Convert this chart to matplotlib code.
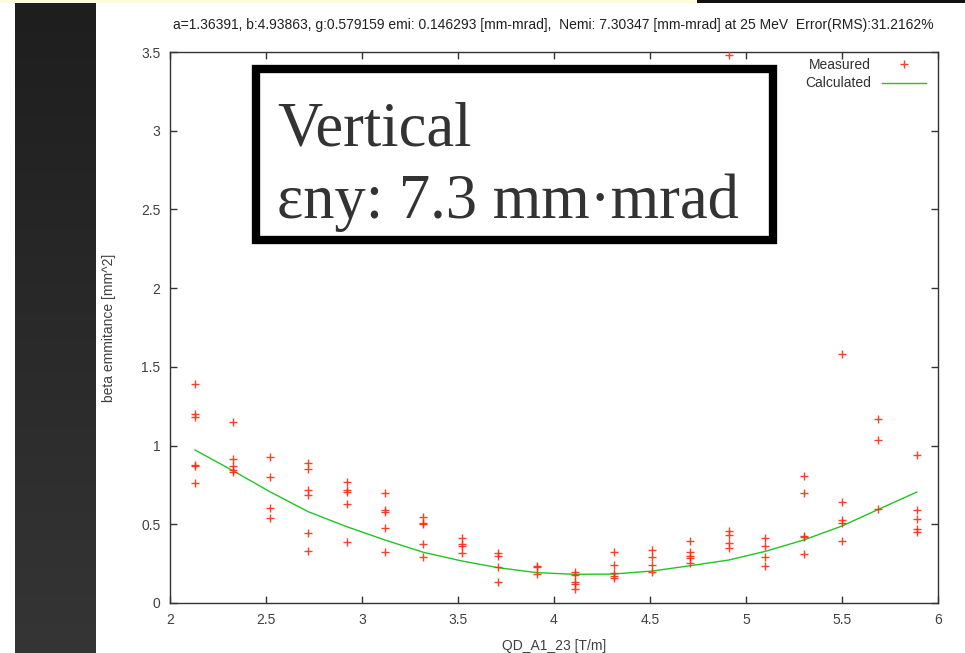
import matplotlib
matplotlib.use("Agg")
import matplotlib.pyplot as plt
import numpy as np
from matplotlib.colors import LinearSegmentedColormap

# ---------------- data ----------------
quad_strength = [2.13, 2.33, 2.52, 2.72, 2.92, 3.12, 3.32, 3.52, 3.71, 3.91,
                 4.11, 4.31, 4.51, 4.71, 4.91, 5.10, 5.30, 5.50, 5.69, 5.89]

measured = [
    [1.39, 1.20, 1.18, 0.877, 0.870, 0.76],
    [1.148, 0.915, 0.870, 0.845, 0.834],
    [0.925, 0.80, 0.605, 0.538],
    [0.888, 0.85, 0.72, 0.684, 0.445, 0.332],
    [0.767, 0.718, 0.703, 0.631, 0.388],
    [0.699, 0.591, 0.58, 0.476, 0.326],
    [0.548, 0.51, 0.50, 0.373, 0.294],
    [0.415, 0.373, 0.362, 0.316],
    [0.32, 0.30, 0.229, 0.133],
    [0.237, 0.229, 0.182],
    [0.195, 0.178, 0.131, 0.121, 0.091],
    [0.322, 0.243, 0.189, 0.172, 0.161],
    [0.335, 0.29, 0.243, 0.197],
    [0.392, 0.326, 0.299, 0.286, 0.252],
    [3.48, 0.455, 0.43, 0.379, 0.349],
    [0.411, 0.362, 0.292, 0.237],
    [0.805, 0.697, 0.426, 0.417, 0.309],
    [1.582, 0.640, 0.525, 0.51, 0.394],
    [1.171, 1.034, 0.599],
    [0.942, 0.593, 0.532, 0.468, 0.451],
]

calculated = [0.972, 0.839, 0.707, 0.58, 0.485, 0.40, 0.322, 0.267, 0.224, 0.193,
              0.182, 0.184, 0.203, 0.237, 0.273, 0.328, 0.40, 0.489, 0.595, 0.705]

x_ticks = [2, 2.5, 3, 3.5, 4, 4.5, 5, 5.5, 6]
x_tick_labels = ["2", "2.5", "3", "3.5", "4", "4.5", "5", "5.5", "6"]
y_ticks = [0, 0.5, 1, 1.5, 2, 2.5, 3, 3.5]
y_tick_labels = ["0", "0.5", "1", "1.5", "2", "2.5", "3", "3.5"]

title_text = ("a=1.36391, b:4.93863, g:0.579159 emi: 0.146293 [mm-mrad],  "
              "Nemi: 7.30347 [mm-mrad] at 25 MeV  Error(RMS):31.2162%")
box_line1 = "Vertical"
box_line2 = "εny: 7.3 mm·mrad"

# ---------------- figure ----------------
W, H = 965, 653
fig = plt.figure(figsize=(W / 100, H / 100), dpi=100)
fig.patch.set_facecolor("white")

def fx(px):
    return px / W

def fy(py):
    return 1 - py / H

# top strips
fig.patches.append(plt.Rectangle((0, fy(3)), fx(697), 3 / H, transform=fig.transFigure,
                                 facecolor="#fffbdc", edgecolor="none", zorder=0))
fig.patches.append(plt.Rectangle((fx(697), fy(2.5)), 1 - fx(697), 2.5 / H, transform=fig.transFigure,
                                 facecolor="#111111", edgecolor="none", zorder=0))

# dark side bar with gradient
bar = fig.add_axes([fx(15), 0, fx(96) - fx(15), fy(3)])
grad = np.linspace(0, 1, 256).reshape(-1, 1)
cmap = LinearSegmentedColormap.from_list("g", ["#1e1e1e", "#353535"])
bar.imshow(grad, aspect="auto", cmap=cmap, extent=[0, 1, 1, 0])
bar.set_axis_off()

# main axes
ax = fig.add_axes([fx(170), fy(603), fx(938) - fx(170), fy(52) - fy(603)])
font = "Liberation Sans"
tc = "#404040"
fs = 10

xs = []
ys = []
for xv, vals in zip(quad_strength, measured):
    for v in vals:
        xs.append(xv)
        ys.append(v)

ax.plot(xs, ys, linestyle="none", marker="+", markersize=6, markeredgewidth=1.0,
        color="#ff2a10", alpha=0.9, label="Measured", zorder=3)
ax.plot(quad_strength, calculated, color="#22c422", lw=1.0, label="Calculated", zorder=2)

ax.set_xlim(2, 6)
ax.set_ylim(0, 3.5)
ax.set_xticks(x_ticks)
ax.set_xticklabels(x_tick_labels)
ax.set_yticks(y_ticks)
ax.set_yticklabels(y_tick_labels)
ax.tick_params(direction="in", length=5, width=1, color="#333333", top=True, right=True,
               labelsize=fs, labelcolor=tc, pad=7)
for lab in ax.get_xticklabels() + ax.get_yticklabels():
    lab.set_fontfamily(font)
for s in ax.spines.values():
    s.set_color("#333333")
    s.set_linewidth(1.0)

ax.set_xlabel("QD_A1_23 [T/m]", fontsize=fs, color=tc, fontfamily=font, labelpad=9)
ax.set_ylabel("beta emmitance [mm^2]", fontsize=fs, color=tc, fontfamily=font, labelpad=18)

fig.text(fx(553), fy(25), title_text, ha="center", va="center", fontsize=10,
         color="#202020", fontfamily=font)

leg = ax.legend(loc="upper right", markerfirst=False, frameon=False,
                handlelength=3.2, handletextpad=0.8, borderaxespad=0.2, borderpad=0.2,
                labelspacing=0.35, bbox_to_anchor=(0.992, 1.0),
                prop={"family": font, "size": fs})
for t in leg.get_texts():
    t.set_color("#303030")

# annotation box
rect = plt.Rectangle((fx(256), fy(240)), fx(773) - fx(256), fy(69) - fy(240),
                     transform=fig.transFigure, facecolor="white", edgecolor="black",
                     linewidth=6, zorder=10)
fig.patches.append(rect)
fig.text(fx(277), fy(145), box_line1, ha="left", va="baseline", fontsize=45,
         fontfamily="Liberation Serif", color="#333333", zorder=11)
fig.text(fx(277), fy(218), box_line2, ha="left", va="baseline", fontsize=45,
         fontfamily="Liberation Serif", color="#333333", zorder=11)

fig.savefig("out.png", dpi=100)
